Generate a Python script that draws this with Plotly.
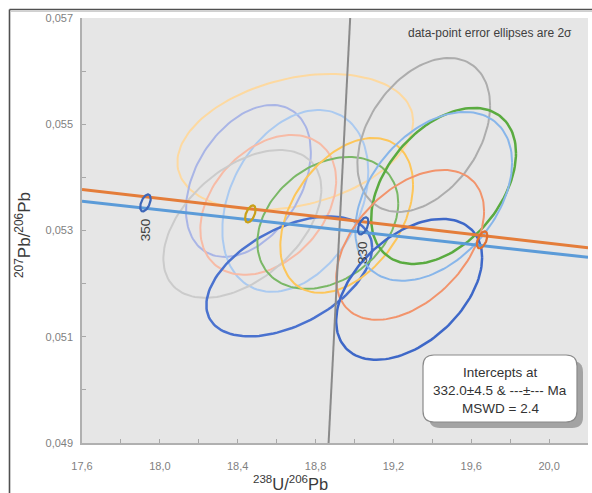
import numpy as np
import plotly.graph_objects as go

# ---- data -----------------------------------------------------------------
# data-point error ellipses: centre, 2-sigma half widths and error correlation
ell_x   = [18.696, 18.455, 18.696, 18.557, 18.424, 18.665, 18.863,
           18.960, 19.356, 19.458, 19.407, 19.286, 19.281]
ell_y   = [0.054667, 0.053933, 0.053557, 0.053482, 0.053124, 0.052136, 0.053143,
           0.053284, 0.054799, 0.053839, 0.053642, 0.052729, 0.051892]
err_x   = [0.606, 0.321, 0.375, 0.349, 0.406, 0.426, 0.362,
           0.341, 0.341, 0.372, 0.403, 0.380, 0.375]
err_y   = [0.001279, 0.001430, 0.001712, 0.001317, 0.001392, 0.001129, 0.001242,
           0.001458, 0.001449, 0.001468, 0.001590, 0.001411, 0.001326]
err_rho = [0.30, 0.38, 0.32, 0.35, 0.47, 0.48, 0.30,
           0.40, 0.38, 0.42, 0.40, 0.45, 0.45]

# concordia band edges
conc_x       = [17.6, 20.2]
conc_upper_y = [0.053771, 0.052676]
conc_lower_y = [0.053551, 0.052494]

# discordia regression line
disc_x = [18.867, 18.978]
disc_y = [0.049, 0.057]

# age markers on the concordia (Ma)
age_ma = [350, 340, 330, 320]
age_x  = [17.926, 18.465, 19.045, 19.656]
age_y  = [0.053519, 0.053312, 0.053087, 0.052823]
age_labelled = [True, False, True, False]

x_ticks = [17.6, 18.0, 18.4, 18.8, 19.2, 19.6, 20.0]
y_ticks = [0.049, 0.051, 0.053, 0.055, 0.057]

# ---- styles ----------------------------------------------------------------
ell_colors = ["#fdd9a0", "#a9b5e6", "#abcaf0", "#f7bba6", "#cbcbcb", "#4a72cf", "#7ab866",
              "#fdc65a", "#adadad", "#5aab40", "#88b6ea", "#f2946c", "#3e68c8"]
ell_widths = [2, 2, 2, 2, 2, 2.5, 2, 2, 2, 2.5, 2, 2, 2.5]
age_colors = ["#3d66b8", "#c9a018", "#3d66b8", "#e07030"]
FONT = "Liberation Sans, Arial"

W, H = 592, 493
ML, MR, MT, MB = 82, 4, 18, 50


def px_x(px):
    return (px - ML) / (W - ML - MR)


def px_y(py):
    return 1 - (py - MT) / (H - MT - MB)


def ellipse(cx, cy, hx, hy, r, n=140):
    t = np.linspace(0, 2 * np.pi, n)
    xs = cx + hx * np.cos(t)
    ys = cy + hy * (r * np.cos(t) + np.sqrt(1 - r * r) * np.sin(t))
    return xs, ys


fig = go.Figure()

for i in range(len(ell_x)):
    xs, ys = ellipse(ell_x[i], ell_y[i], err_x[i], err_y[i], err_rho[i])
    fig.add_trace(go.Scatter(x=xs, y=ys, mode="lines",
                             line=dict(color=ell_colors[i], width=ell_widths[i]),
                             hoverinfo="skip", showlegend=False))

fig.add_trace(go.Scatter(x=disc_x, y=disc_y, mode="lines",
                         line=dict(color="#8a8a8a", width=2), showlegend=False))
fig.add_trace(go.Scatter(x=conc_x, y=conc_upper_y, mode="lines",
                         line=dict(color="#e47d3a", width=3), showlegend=False))
fig.add_trace(go.Scatter(x=conc_x, y=conc_lower_y, mode="lines",
                         line=dict(color="#5b9bd8", width=3), showlegend=False))

for i in range(len(age_ma)):
    xs, ys = ellipse(age_x[i], age_y[i], 0.027, 0.00016, 0.5)
    fig.add_trace(go.Scatter(x=xs, y=ys, mode="lines",
                             line=dict(color=age_colors[i], width=2.2), showlegend=False))

annotations = []
for i in range(len(age_ma)):
    if age_labelled[i]:
        annotations.append(dict(x=age_x[i], y=age_y[i], xref="x", yref="y",
                                xanchor="center", yanchor="middle",
                                text=str(age_ma[i]), showarrow=False, textangle=-90,
                                yshift=-27,
                                font=dict(family=FONT, size=13.5, color="#404040")))

annotations.append(dict(x=px_x(490), y=px_y(33), xref="paper", yref="paper",
                        xanchor="center", yanchor="middle",
                        text="data-point error ellipses are 2σ", showarrow=False,
                        font=dict(family=FONT, size=12, color="#404040")))

box_lines = ["Intercepts at", "332.0±4.5 & ---±--- Ma", "MSWD = 2.4"]
for k, line in enumerate(box_lines):
    annotations.append(dict(x=px_x(500), y=px_y(372 + 18 * k), xref="paper", yref="paper",
                            xanchor="center", yanchor="middle",
                            text=line, showarrow=False,
                            font=dict(family=FONT, size=13.5, color="#333333")))

annotations.append(dict(x=px_x(290), y=px_y(483), xref="paper", yref="paper",
                        xanchor="center", yanchor="middle",
                        text="<sup>238</sup>U/<sup>206</sup>Pb", showarrow=False,
                        font=dict(family=FONT, size=16.5, color="#3a3a3a")))
annotations.append(dict(x=px_x(23), y=px_y(235), xref="paper", yref="paper",
                        xanchor="center", yanchor="middle",
                        text="<sup>207</sup>Pb/<sup>206</sup>Pb", showarrow=False, textangle=-90,
                        font=dict(family=FONT, size=17, color="#3a3a3a")))


def rounded_rect(x0, y0, x1, y1, r):
    X, Y = px_x, px_y
    return (f"M {X(x0 + r)},{Y(y0)} L {X(x1 - r)},{Y(y0)} Q {X(x1)},{Y(y0)} {X(x1)},{Y(y0 + r)} "
            f"L {X(x1)},{Y(y1 - r)} Q {X(x1)},{Y(y1)} {X(x1 - r)},{Y(y1)} "
            f"L {X(x0 + r)},{Y(y1)} Q {X(x0)},{Y(y1)} {X(x0)},{Y(y1 - r)} "
            f"L {X(x0)},{Y(y0 + r)} Q {X(x0)},{Y(y0)} {X(x0 + r)},{Y(y0)} Z")


shapes = [
    # result box shadow and box
    dict(type="path", xref="paper", yref="paper", layer="above",
         path=rounded_rect(429, 361, 583, 428, 11),
         fillcolor="#a3a3a3", line=dict(width=0)),
    dict(type="path", xref="paper", yref="paper", layer="above",
         path=rounded_rect(423, 355, 577, 422, 11),
         fillcolor="white", line=dict(color="#8a8a8a", width=1.2)),
    # outer frame
    dict(type="line", xref="paper", yref="paper",
         x0=px_x(9.5), x1=px_x(9.5), y0=px_y(9.5), y1=px_y(520),
         line=dict(color="#505050", width=1.6)),
    dict(type="line", xref="paper", yref="paper",
         x0=px_x(9.5), x1=px_x(620), y0=px_y(9.5), y1=px_y(9.5),
         line=dict(color="#505050", width=1.6)),
    dict(type="line", xref="paper", yref="paper",
         x0=px_x(11), x1=px_x(620), y0=px_y(11.5), y1=px_y(11.5),
         line=dict(color="#d0d0d0", width=1.2)),
]

fig.update_layout(
    width=W, height=H,
    margin=dict(l=ML, r=MR, t=MT, b=MB),
    paper_bgcolor="white",
    plot_bgcolor="#e6e6e6",
    separators=", ",
    showlegend=False,
    annotations=annotations,
    shapes=shapes,
    font=dict(family=FONT, color="#7f7f7f"),
)

fig.update_xaxes(range=[17.6, 20.2], tickvals=x_ticks, tickformat=".1f",
                 showgrid=False, zeroline=False,
                 showline=True, linecolor="#b0b0b0", linewidth=1.5,
                 ticks="inside", ticklen=4, tickcolor="#a8a8a8", tickwidth=1,
                 minor=dict(dtick=0.2, tick0=17.6, ticks="inside", ticklen=4, tickcolor="#a8a8a8"),
                 tickfont=dict(size=11, color="#7f7f7f"), ticklabelstandoff=12)
fig.update_yaxes(range=[0.049, 0.057], tickvals=y_ticks, tickformat=".3f",
                 showgrid=False, zeroline=False,
                 showline=True, linecolor="#b0b0b0", linewidth=1.5,
                 ticks="inside", ticklen=4, tickcolor="#a8a8a8", tickwidth=1,
                 minor=dict(dtick=0.001, tick0=0.049, ticks="inside", ticklen=4, tickcolor="#a8a8a8"),
                 tickfont=dict(size=11, color="#7f7f7f"), ticklabelstandoff=5)

fig.write_html("out.html")
